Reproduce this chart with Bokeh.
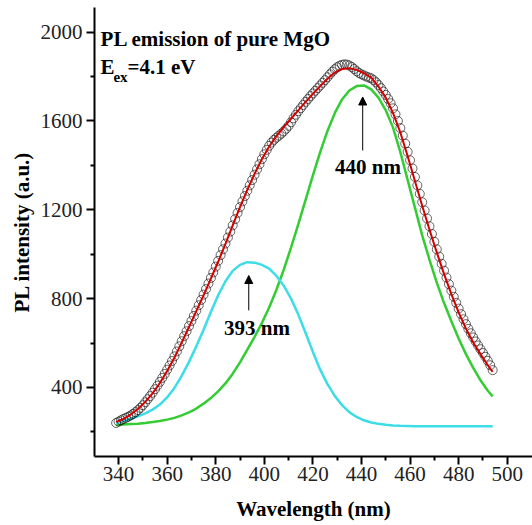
from bokeh.plotting import figure
from bokeh.models import FixedTicker, Arrow, NormalHead, Range1d
from bokeh.embed import file_html
from bokeh.resources import INLINE
from bokeh.core.properties import value

# ---- data ----
data_wl = list(range(339, 495))
data_pl = [240, 246, 252, 258, 263, 268, 274, 281, 289, 298,
           308, 320, 333, 347, 361, 376, 392, 408, 425, 443,
           461, 480, 499, 519, 540, 562, 585, 608, 631, 653,
           676, 699, 722, 746, 770, 794, 818, 843, 868, 893,
           918, 944, 970, 996, 1022, 1048, 1075, 1102, 1130, 1158,
           1186, 1212, 1238, 1262, 1286, 1310, 1334, 1358, 1382, 1405,
           1428, 1450, 1470, 1488, 1503, 1515, 1525, 1534, 1543, 1553,
           1565, 1578, 1594, 1612, 1628, 1644, 1658, 1672, 1686, 1699,
           1712, 1724, 1736, 1748, 1760, 1772, 1784, 1797, 1810, 1822,
           1833, 1842, 1849, 1853, 1855, 1854, 1850, 1843, 1834, 1824,
           1816, 1810, 1805, 1800, 1796, 1792, 1784, 1774, 1762, 1748,
           1733, 1717, 1699, 1680, 1657, 1630, 1600, 1568, 1534, 1498,
           1461, 1423, 1386, 1348, 1310, 1272, 1234, 1197, 1161, 1126,
           1091, 1056, 1022, 989, 957, 926, 895, 865, 836, 808,
           781, 755, 730, 707, 685, 664, 644, 625, 607, 589,
           572, 555, 538, 520, 500, 478]

fit_wl = list(range(339, 493, 3)) + [494]
fit_total = [245, 258, 278, 303, 335, 373, 420, 474, 534, 602,
             672, 744, 815, 890, 966, 1046, 1130, 1212, 1290, 1362,
             1428, 1485, 1532, 1572, 1610, 1648, 1686, 1722, 1757, 1790,
             1818, 1834, 1838, 1830, 1815, 1795, 1755, 1705, 1635, 1548,
             1442, 1330, 1218, 1110, 1008, 910, 820, 738, 665, 602,
             550, 500, 470]
peak_393 = [240, 249, 259, 270, 283, 300, 323, 355, 398, 452,
            515, 585, 660, 740, 815, 878, 925, 952, 964, 962,
            952, 935, 902, 858, 800, 728, 645, 560, 480, 415,
            362, 320, 289, 267, 252, 242, 236, 232, 229, 227,
            226, 225, 225, 225, 225, 225, 225, 225, 225, 225,
            225, 225, 225]
peak_440 = [232, 233, 235, 237, 240, 244, 249, 255, 263, 274,
            288, 305, 327, 352, 382, 418, 462, 513, 570, 628,
            690, 760, 840, 930, 1030, 1135, 1245, 1355, 1460, 1555,
            1635, 1697, 1737, 1757, 1760, 1742, 1705, 1648, 1570, 1460,
            1335, 1210, 1085, 975, 872, 780, 698, 620, 550, 488,
            432, 385, 360]

x_ticks = [340, 360, 380, 400, 420, 440, 460, 480, 500]
x_minor = [350, 370, 390, 410, 430, 450, 470, 490]
y_ticks = [400, 800, 1200, 1600, 2000]
y_minor = [200, 600, 1000, 1400, 1800]

FONT = "Liberation Serif"

p = figure(width=532, height=525, output_backend="svg", toolbar_location=None,
           x_range=Range1d(330.1, 510.4), y_range=Range1d(89, 2111),
           min_border_left=94, min_border_right=0, min_border_top=7,
           min_border_bottom=69)
p.outline_line_color = None
p.grid.visible = False
p.background_fill_color = "white"
p.border_fill_color = "white"

p.xaxis.ticker = FixedTicker(ticks=x_ticks, minor_ticks=x_minor)
p.yaxis.ticker = FixedTicker(ticks=y_ticks, minor_ticks=y_minor)
for ax in (p.xaxis, p.yaxis):
    ax.axis_line_width = 2
    ax.axis_line_color = "black"
    ax.major_tick_line_width = 2
    ax.minor_tick_line_width = 2
    ax.major_tick_line_color = "black"
    ax.minor_tick_line_color = "black"
    ax.major_tick_out = 8
    ax.major_tick_in = 0
    ax.minor_tick_out = 4
    ax.minor_tick_in = 0
    ax.major_label_text_font = FONT
    ax.major_label_text_font_size = "21px"
    ax.major_label_text_color = "#222222"
    ax.axis_label_text_font = FONT
    ax.axis_label_text_font_style = "bold"
    ax.axis_label_text_font_size = "21px"
    ax.axis_label_text_color = "black"
p.xaxis.major_label_standoff = 2
p.yaxis.major_label_standoff = 4
p.xaxis.axis_label = "Wavelength (nm)"
p.yaxis.axis_label = "PL intensity (a.u.)"
p.xaxis.axis_label_standoff = 13
p.yaxis.axis_label_standoff = 4

# component peaks
p.line(fit_wl, peak_440, line_color="#33cc33", line_width=2.5)
p.line(fit_wl, peak_393, line_color="#3cdde6", line_width=2.5)
# data
p.scatter(data_wl, data_pl, marker="circle", size=9, fill_color=None,
          line_color="black", line_width=0.7, line_alpha=0.85)
# fit
p.line(fit_wl, fit_total, line_color="#d40000", line_width=2)

# arrows
p.add_layout(Arrow(end=NormalHead(size=8, fill_color="black", line_color="black"),
                   x_start=393.6, y_start=747, x_end=393.6, y_end=904,
                   line_width=1, line_color="black"))
p.add_layout(Arrow(end=NormalHead(size=8, fill_color="black", line_color="black"),
                   x_start=440.5, y_start=1467, x_end=440.5, y_end=1708,
                   line_width=1, line_color="black"))

bold = dict(text_font=value(FONT), text_font_style="bold", text_color="black")
p.text(x=[397.0], y=[666], text=["393 nm"], text_align="center",
       text_baseline="middle", text_font_size="21px", **bold)
p.text(x=[442.7], y=[1392], text=["440 nm"], text_align="center",
       text_baseline="middle", text_font_size="21px", **bold)
p.text(x=[332.6], y=[1970], text=["PL emission of pure MgO"], text_align="left",
       text_baseline="alphabetic", text_font_size="21px", **bold)
p.text(x=[332.6], y=[1845], text=["E"], text_align="left",
       text_baseline="alphabetic", text_font_size="21px", **bold)
p.text(x=[337.9], y=[1800], text=["ex"], text_align="left",
       text_baseline="alphabetic", text_font_size="15px", **bold)
p.text(x=[343.7], y=[1845], text=["=4.1 eV"], text_align="left",
       text_baseline="alphabetic", text_font_size="21px", **bold)

open("out.html", "w").write(file_html(p, INLINE))
